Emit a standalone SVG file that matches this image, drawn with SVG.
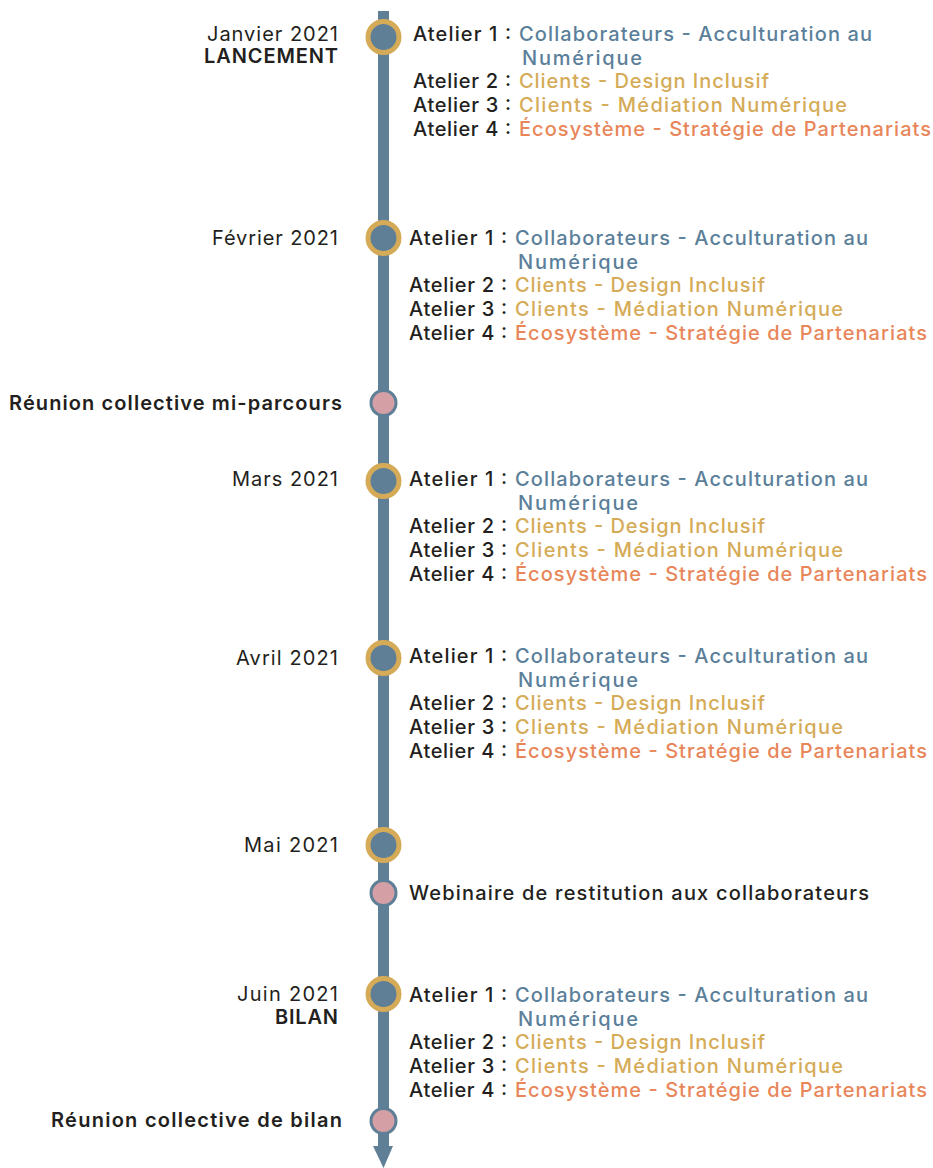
<svg xmlns="http://www.w3.org/2000/svg" width="933" height="1168" viewBox="0 0 933 1168">
<style>
text{font-family:Inter,"Open Sans","Liberation Sans",sans-serif;font-size:20px;fill:#231f20}
.b{font-weight:600}
.a{font-weight:500}
.c1{fill:#5b7f9a;font-weight:500}
.c2{fill:#d5ab57;font-weight:500}
.c4{fill:#e8865a;font-weight:500}
.big{fill:#5f7f97;stroke:#d5ab57;stroke-width:5}
.sm{fill:#d4a0a5;stroke:#5f7f97;stroke-width:3}
</style>
<rect width="933" height="1168" fill="#fff"/>
<g id="connectors">
<rect x="378" y="11" width="11" height="1137" fill="#5f7f97"/>
<polygon points="373,1146 393,1146 383.5,1168" fill="#5f7f97"/>
</g>
<g id="jan">
<circle class="big" cx="383.5" cy="37" r="15.5"/>
<text x="207" y="41" textLength="131" lengthAdjust="spacing">Janvier 2021</text>
<text class="b" x="204" y="63" textLength="134" lengthAdjust="spacing">LANCEMENT</text>
<text class="a" x="413" y="41" textLength="98" lengthAdjust="spacing">Atelier 1 :</text><text class="c1" x="519" y="41" textLength="353" lengthAdjust="spacing">Collaborateurs - Acculturation au</text>
<text class="c1" x="522" y="64.5" textLength="120" lengthAdjust="spacing">Numérique</text>
<text class="a" x="413" y="88" textLength="98" lengthAdjust="spacing">Atelier 2 :</text><text class="c2" x="519" y="88" textLength="250" lengthAdjust="spacing">Clients - Design Inclusif</text>
<text class="a" x="413" y="112" textLength="98" lengthAdjust="spacing">Atelier 3 :</text><text class="c2" x="519" y="112" textLength="328" lengthAdjust="spacing">Clients - Médiation Numérique</text>
<text class="a" x="413" y="136" textLength="98" lengthAdjust="spacing">Atelier 4 :</text><text class="c4" x="519" y="136" textLength="412" lengthAdjust="spacing">Écosystème - Stratégie de Partenariats</text>
</g>
<g id="fev">
<circle class="big" cx="383.5" cy="238" r="15.5"/>
<text x="212" y="245" textLength="126" lengthAdjust="spacing">Février 2021</text>
<text class="a" x="409" y="245" textLength="98" lengthAdjust="spacing">Atelier 1 :</text><text class="c1" x="515" y="245" textLength="353" lengthAdjust="spacing">Collaborateurs - Acculturation au</text>
<text class="c1" x="518" y="268.5" textLength="120" lengthAdjust="spacing">Numérique</text>
<text class="a" x="409" y="292" textLength="98" lengthAdjust="spacing">Atelier 2 :</text><text class="c2" x="515" y="292" textLength="250" lengthAdjust="spacing">Clients - Design Inclusif</text>
<text class="a" x="409" y="316" textLength="98" lengthAdjust="spacing">Atelier 3 :</text><text class="c2" x="515" y="316" textLength="328" lengthAdjust="spacing">Clients - Médiation Numérique</text>
<text class="a" x="409" y="340" textLength="98" lengthAdjust="spacing">Atelier 4 :</text><text class="c4" x="515" y="340" textLength="412" lengthAdjust="spacing">Écosystème - Stratégie de Partenariats</text>
</g>
<g id="reunion-mi">
<circle class="sm" cx="383.5" cy="403" r="12.5"/>
<text class="b" x="9" y="410" textLength="333" lengthAdjust="spacing">Réunion collective mi-parcours</text>
</g>
<g id="mars">
<circle class="big" cx="383.5" cy="481" r="15.5"/>
<text x="232" y="486" textLength="106" lengthAdjust="spacing">Mars 2021</text>
<text class="a" x="409" y="486" textLength="98" lengthAdjust="spacing">Atelier 1 :</text><text class="c1" x="515" y="486" textLength="353" lengthAdjust="spacing">Collaborateurs - Acculturation au</text>
<text class="c1" x="518" y="509.5" textLength="120" lengthAdjust="spacing">Numérique</text>
<text class="a" x="409" y="533" textLength="98" lengthAdjust="spacing">Atelier 2 :</text><text class="c2" x="515" y="533" textLength="250" lengthAdjust="spacing">Clients - Design Inclusif</text>
<text class="a" x="409" y="557" textLength="98" lengthAdjust="spacing">Atelier 3 :</text><text class="c2" x="515" y="557" textLength="328" lengthAdjust="spacing">Clients - Médiation Numérique</text>
<text class="a" x="409" y="581" textLength="98" lengthAdjust="spacing">Atelier 4 :</text><text class="c4" x="515" y="581" textLength="412" lengthAdjust="spacing">Écosystème - Stratégie de Partenariats</text>
</g>
<g id="avril">
<circle class="big" cx="383.5" cy="658" r="15.5"/>
<text x="236" y="665" textLength="102" lengthAdjust="spacing">Avril 2021</text>
<text class="a" x="409" y="663" textLength="98" lengthAdjust="spacing">Atelier 1 :</text><text class="c1" x="515" y="663" textLength="353" lengthAdjust="spacing">Collaborateurs - Acculturation au</text>
<text class="c1" x="518" y="686.5" textLength="120" lengthAdjust="spacing">Numérique</text>
<text class="a" x="409" y="710" textLength="98" lengthAdjust="spacing">Atelier 2 :</text><text class="c2" x="515" y="710" textLength="250" lengthAdjust="spacing">Clients - Design Inclusif</text>
<text class="a" x="409" y="734" textLength="98" lengthAdjust="spacing">Atelier 3 :</text><text class="c2" x="515" y="734" textLength="328" lengthAdjust="spacing">Clients - Médiation Numérique</text>
<text class="a" x="409" y="758" textLength="98" lengthAdjust="spacing">Atelier 4 :</text><text class="c4" x="515" y="758" textLength="412" lengthAdjust="spacing">Écosystème - Stratégie de Partenariats</text>
</g>
<g id="mai">
<circle class="big" cx="383.5" cy="845" r="15.5"/>
<text x="244" y="852" textLength="94" lengthAdjust="spacing">Mai 2021</text>
</g>
<g id="webinaire">
<circle class="sm" cx="383.5" cy="893" r="12.5"/>
<text class="a" x="409" y="900" textLength="460" lengthAdjust="spacing">Webinaire de restitution aux collaborateurs</text>
</g>
<g id="juin">
<circle class="big" cx="383.5" cy="994" r="15.5"/>
<text x="237" y="1001" textLength="101" lengthAdjust="spacing">Juin 2021</text>
<text class="b" x="275" y="1024" textLength="63" lengthAdjust="spacing">BILAN</text>
<text class="a" x="409" y="1002" textLength="98" lengthAdjust="spacing">Atelier 1 :</text><text class="c1" x="515" y="1002" textLength="353" lengthAdjust="spacing">Collaborateurs - Acculturation au</text>
<text class="c1" x="518" y="1025.5" textLength="120" lengthAdjust="spacing">Numérique</text>
<text class="a" x="409" y="1049" textLength="98" lengthAdjust="spacing">Atelier 2 :</text><text class="c2" x="515" y="1049" textLength="250" lengthAdjust="spacing">Clients - Design Inclusif</text>
<text class="a" x="409" y="1073" textLength="98" lengthAdjust="spacing">Atelier 3 :</text><text class="c2" x="515" y="1073" textLength="328" lengthAdjust="spacing">Clients - Médiation Numérique</text>
<text class="a" x="409" y="1097" textLength="98" lengthAdjust="spacing">Atelier 4 :</text><text class="c4" x="515" y="1097" textLength="412" lengthAdjust="spacing">Écosystème - Stratégie de Partenariats</text>
</g>
<g id="reunion-bilan">
<circle class="sm" cx="383.5" cy="1121" r="12.5"/>
<text class="b" x="51" y="1127" textLength="291" lengthAdjust="spacing">Réunion collective de bilan</text>
</g>
</svg>
